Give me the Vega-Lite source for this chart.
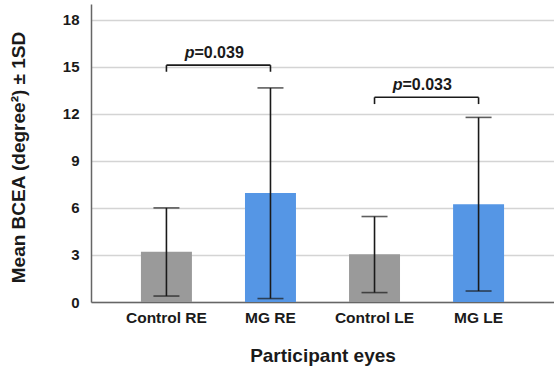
{
  "$schema": "https://vega.github.io/schema/vega-lite/v6.json",
  "width": 463,
  "height": 298,
  "autosize": {"type": "none"},
  "padding": {"left": 91, "top": 4, "right": 0, "bottom": 70},
  "background": "white",
  "config": {
    "view": {"stroke": null},
    "font": "Liberation Sans"
  },
  "datasets": {
    "bars": [
      {"group": "Control RE", "type": "Control", "mean": 3.2, "lo": 0.38, "hi": 6.0},
      {"group": "MG RE", "type": "MG", "mean": 6.95, "lo": 0.22, "hi": 13.65},
      {"group": "Control LE", "type": "Control", "mean": 3.04, "lo": 0.6, "hi": 5.45},
      {"group": "MG LE", "type": "MG", "mean": 6.23, "lo": 0.7, "hi": 11.77}
    ],
    "brackets": [
      {"from": "Control RE", "to": "MG RE", "y": 15.1, "drop": 14.68, "p": "p", "val": "=0.039", "ty": 15.55},
      {"from": "Control LE", "to": "MG LE", "y": 13.05, "drop": 12.62, "p": "p", "val": "=0.033", "ty": 13.5}
    ]
  },
  "encoding": {
    "x": {
      "field": "group",
      "type": "nominal",
      "scale": {"domain": ["Control RE", "MG RE", "Control LE", "MG LE"], "paddingInner": 0.51, "paddingOuter": 0.48},
      "axis": {
        "title": "Participant eyes",
        "labelAngle": 0,
        "labelFont": "Liberation Sans",
        "labelFontSize": 15.5,
        "labelFontWeight": "bold",
        "labelColor": "#1a1a1a",
        "labelPadding": 8,
        "ticks": false,
        "domainColor": "#666",
        "domainWidth": 1.5,
        "titleFont": "Liberation Sans",
        "titleFontSize": 19,
        "titleFontWeight": "bold",
        "titleColor": "#1a1a1a",
        "titleY": 44
      }
    }
  },
  "layer": [
    {
      "data": {"name": "bars"},
      "mark": {"type": "bar"},
      "encoding": {
        "y": {
          "field": "mean",
          "type": "quantitative",
          "scale": {"domain": [0, 19], "nice": false},
          "axis": {
            "title": "Mean BCEA (degree²) ± 1SD",
            "values": [0, 3, 6, 9, 12, 15, 18],
            "labelFont": "Liberation Sans",
            "labelFontSize": 15,
            "labelFontWeight": "bold",
            "labelColor": "#1a1a1a",
            "labelPadding": 12,
            "ticks": false,
            "grid": true,
            "gridColor": "#d4d4d4",
            "gridWidth": 1.5,
            "domainColor": "#666",
            "domainWidth": 1.5,
            "titleFont": "Liberation Sans",
            "titleFontSize": 19,
            "titleFontWeight": "bold",
            "titleColor": "#1a1a1a",
            "titleX": -63,
            "titleY": 153
          }
        },
        "color": {
          "field": "type",
          "type": "nominal",
          "scale": {"domain": ["Control", "MG"], "range": ["#9a9a9a", "#5596e5"]},
          "legend": null
        }
      }
    },
    {
      "data": {"name": "bars"},
      "mark": {"type": "rule", "color": "#1a1a1a", "strokeWidth": 1.6},
      "encoding": {
        "y": {"field": "lo", "type": "quantitative"},
        "y2": {"field": "hi"}
      }
    },
    {
      "data": {"name": "bars"},
      "mark": {"type": "tick", "color": "#1a1a1a", "thickness": 1.6, "size": 26, "orient": "horizontal"},
      "encoding": {
        "y": {"field": "lo", "type": "quantitative"}
      }
    },
    {
      "data": {"name": "bars"},
      "mark": {"type": "tick", "color": "#1a1a1a", "thickness": 1.6, "size": 26, "orient": "horizontal"},
      "encoding": {
        "y": {"field": "hi", "type": "quantitative"}
      }
    },
    {
      "data": {"name": "brackets"},
      "mark": {"type": "rule", "color": "#1a1a1a", "strokeWidth": 1.6},
      "encoding": {
        "x": {"field": "from", "type": "nominal"},
        "x2": {"field": "to"},
        "y": {"field": "y", "type": "quantitative"}
      }
    },
    {
      "data": {"name": "brackets"},
      "mark": {"type": "rule", "color": "#1a1a1a", "strokeWidth": 1.6},
      "encoding": {
        "x": {"field": "from", "type": "nominal"},
        "y": {"field": "y", "type": "quantitative"},
        "y2": {"field": "drop"}
      }
    },
    {
      "data": {"name": "brackets"},
      "mark": {"type": "rule", "color": "#1a1a1a", "strokeWidth": 1.6},
      "encoding": {
        "x": {"field": "to", "type": "nominal"},
        "y": {"field": "y", "type": "quantitative"},
        "y2": {"field": "drop"}
      }
    },
    {
      "data": {"name": "brackets"},
      "mark": {"type": "text", "align": "right", "baseline": "alphabetic", "dx": 28, "font": "Liberation Sans", "fontSize": 16, "fontWeight": "bold", "fontStyle": "italic", "color": "#1a1a1a"},
      "encoding": {
        "x": {"field": "from", "type": "nominal"},
        "y": {"field": "ty", "type": "quantitative"},
        "text": {"field": "p"}
      }
    },
    {
      "data": {"name": "brackets"},
      "mark": {"type": "text", "align": "left", "baseline": "alphabetic", "dx": 28, "font": "Liberation Sans", "fontSize": 16, "fontWeight": "bold", "color": "#1a1a1a"},
      "encoding": {
        "x": {"field": "from", "type": "nominal"},
        "y": {"field": "ty", "type": "quantitative"},
        "text": {"field": "val"}
      }
    }
  ]
}
